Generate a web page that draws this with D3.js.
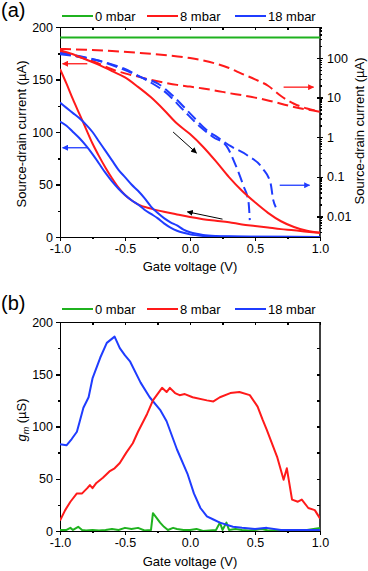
<!DOCTYPE html>
<meta charset="utf-8">
<style>
body { margin: 0; background: #fff; }
svg text { font-family: "Liberation Sans", Arial, sans-serif; fill: #000; }
.axis path, .axis line { stroke: #000; stroke-width: 1.5; shape-rendering: crispEdges; }
.axis text { font-size: 12.5px; }
</style>
<body>
<div id="chart"></div>
<script src="https://d3js.org/d3.v7.min.js"></script>
<script>

// ---- data ----
const seriesNames = ["0 mbar", "8 mbar", "18 mbar"];
const seriesColors = ["#1fb21f", "#ff1a1a", "#1f3cff"];

const gateTicks = [-1, -0.5, 0, 0.5, 1];
const gateMinor = [-0.75, -0.25, 0.25, 0.75];
const currentTicks = [0, 50, 100, 150, 200];
const currentMinor = [25, 75, 125, 175];
const logTicks = [0.01, 0.1, 1, 10, 100];
const gmTicks = [0, 50, 100, 150, 200];

// panel (a), solid lines, left axis (uA)
const green0Solid = [[-1, 190], [1, 190]];
const red8SolidUp = [[-1,178],[-0.9,174],[-0.8,169],[-0.7,164],[-0.6,158],[-0.5,152],[-0.4,143],[-0.3,133],[-0.2,121],[-0.1,108],[0,98],[0.1,86],[0.2,72],[0.3,57],[0.4,44],[0.5,33],[0.6,23],[0.7,15],[0.8,9.5],[0.9,6],[1,4]];
const red8SolidLow = [[-1,160],[-0.95,146],[-0.9,131],[-0.85,117],[-0.8,103],[-0.75,89],[-0.7,77],[-0.65,66],[-0.6,56],[-0.55,47],[-0.5,40],[-0.45,35],[-0.4,31],[-0.3,27],[-0.2,24],[-0.1,21.5],[0,19],[0.1,17],[0.2,15.5],[0.3,14],[0.4,12],[0.5,10.5],[0.6,9],[0.7,7.5],[0.8,6.5],[0.9,5],[1,4]];
const blue18SolidUp = [[-1,128],[-0.95,123],[-0.9,118],[-0.85,113],[-0.8,107],[-0.75,100],[-0.7,91],[-0.65,82],[-0.6,73],[-0.55,64],[-0.5,57],[-0.45,50],[-0.4,44],[-0.35,37],[-0.3,29],[-0.25,23],[-0.2,18],[-0.15,14],[-0.1,11],[-0.05,7],[0,4.5],[0.05,3],[0.1,2],[0.2,1],[0.3,0.6],[0.5,0.3],[0.7,0.2],[1,0.1]];
const blue18SolidLow = [[-1,110],[-0.95,106],[-0.9,100],[-0.85,94],[-0.8,87],[-0.75,79],[-0.7,70],[-0.65,61],[-0.6,53],[-0.55,46],[-0.5,40],[-0.45,35],[-0.4,31],[-0.35,26],[-0.3,22],[-0.25,18],[-0.2,13],[-0.15,9],[-0.1,6],[-0.05,4],[0,2.5],[0.1,1],[0.2,0.5],[0.4,0.2],[1,0.1]];

// panel (a), dashed lines, right log axis (uA)
const red8DashUp = [[-1,170],[-0.8,162],[-0.6,150],[-0.4,136],[-0.2,120],[0,100],[0.2,72],[0.3,56],[0.4,40],[0.5,29],[0.6,20],[0.7,11],[0.8,7],[0.9,5.3],[1,4.5]];
const red8DashLow = [[-1,145],[-0.9,118],[-0.8,95],[-0.7,72],[-0.6,52],[-0.5,41],[-0.4,34],[-0.3,28],[-0.2,24],[-0.1,21],[0,19],[0.1,17],[0.2,15],[0.3,13],[0.4,11.5],[0.5,10],[0.6,8.5],[0.7,7],[0.8,5.8],[0.9,5],[1,4.4]];
const blue18DashA = [[-1,134],[-0.72,89],[-0.54,56],[-0.41,37],[-0.31,25],[-0.18,13],[-0.05,4.8],[0.08,1.8],[0.18,1.0],[0.28,0.6],[0.35,0.2],[0.41,0.06],[0.45,0.023],[0.46,0.008]];
const blue18DashB = [[-1,125],[-0.69,84],[-0.5,53],[-0.36,31],[-0.25,23],[-0.13,11],[0,4.0],[0.13,1.5],[0.21,1.0],[0.31,0.6],[0.44,0.35],[0.56,0.16],[0.62,0.068],[0.64,0.026],[0.66,0.017]];

// panel (b), transconductance (uS)
const gm0 = [[-1,1],[-0.95,1],[-0.92,3],[-0.9,1],[-0.86,4],[-0.83,1],[-0.8,0.5],[-0.75,1],[-0.7,0.5],[-0.65,1],[-0.6,2],[-0.55,1],[-0.5,3],[-0.45,2],[-0.4,3],[-0.35,0.5],[-0.3,1],[-0.285,17],[-0.26,13],[-0.23,8],[-0.2,4],[-0.17,1],[-0.13,3],[-0.1,2],[-0.05,1],[0,1],[0.05,2],[0.1,0],[0.15,0.5],[0.2,1],[0.23,8],[0.25,1],[0.28,8],[0.3,1],[0.35,2],[0.4,1],[0.45,0.5],[0.5,1],[0.55,2],[0.6,0.5],[0.7,1],[0.8,0.5],[0.9,1],[0.95,2],[1,3]];
const gm8 = [[-1,10],[-0.96,20],[-0.92,28],[-0.87,36],[-0.83,36],[-0.79,41],[-0.77,44],[-0.75,41],[-0.72,46],[-0.67,51],[-0.62,57],[-0.58,60],[-0.54,65],[-0.49,75],[-0.44,84],[-0.4,95],[-0.33,112],[-0.285,125],[-0.215,137],[-0.18,133],[-0.155,137],[-0.115,132],[-0.08,130],[-0.04,131],[0.02,128],[0.13,125],[0.18,124],[0.23,128],[0.31,132],[0.38,133],[0.46,130],[0.52,119],[0.56,106],[0.59,97],[0.67,71],[0.72,49],[0.745,60],[0.785,30],[0.83,28],[0.86,30],[0.91,22],[0.96,20],[1,12]];
const gm18 = [[-1,83],[-0.95,82],[-0.91,88],[-0.87,95],[-0.85,104],[-0.82,118],[-0.78,128],[-0.75,146],[-0.69,166],[-0.64,180],[-0.58,186],[-0.54,175],[-0.5,168],[-0.46,162],[-0.38,142],[-0.31,128],[-0.23,116],[-0.18,105],[-0.1,78],[-0.02,55],[0.03,36],[0.08,22],[0.13,14],[0.18,11],[0.23,8],[0.33,4],[0.4,3],[0.5,2],[0.59,3],[0.7,1],[0.85,1],[1,1]];

// arrows in data units: [x1, y1, x2, y2] (tail -> head)
const arrowsLeft = [[-0.79, 165, -0.98, 165, 1], [-0.79, 85, -0.98, 85, 2]];
const arrowsLog = [[0.72, 18.4, 0.95, 18.4, 1], [0.69, 0.061, 0.92, 0.061, 2]];
const arrowsBlack = [[-0.13, 100, 0.05, 80], [0.25, 17, -0.02, 24]];

// ---- layout ----
const width = 368, height = 571;
const svg = d3.select("#chart").append("svg")
  .attr("width", width).attr("height", height);

const x = d3.scaleLinear().domain([-1, 1]).range([60, 320]);
const yA = d3.scaleLinear().domain([0, 200]).range([237, 27]);
const yLog = d3.scaleLog().domain([0.003, 610]).range([237, 27]);
const yB = d3.scaleLinear().domain([0, 200]).range([531, 322]);

const fmt1 = d => d.toFixed(1);

// arrow heads
const defs = svg.append("defs");
seriesColors.concat(["#000"]).forEach((c, i) => {
  defs.append("marker")
    .attr("id", "ah" + i)
    .attr("viewBox", "0 0 10 10")
    .attr("refX", 9).attr("refY", 5)
    .attr("markerWidth", 6).attr("markerHeight", 6)
    .attr("markerUnits", "userSpaceOnUse")
    .attr("orient", "auto")
    .append("path").attr("d", "M0,0L10,5L0,10z").attr("fill", c);
});

defs.append("clipPath").attr("id", "clipA").append("rect")
  .attr("x", 60).attr("y", 27).attr("width", 260).attr("height", 210);
defs.append("clipPath").attr("id", "clipB").append("rect")
  .attr("x", 60).attr("y", 322).attr("width", 260).attr("height", 209);

function drawPanel(y, top, bottom) {
  // bottom axis
  svg.append("g").attr("class", "axis")
    .attr("transform", `translate(0,${bottom})`)
    .call(d3.axisBottom(x).tickValues(gateTicks).tickFormat(fmt1).tickSize(4).tickPadding(3))
    .call(g => g.selectAll("text").attr("font-size", "12.5px"));
  svg.append("g").attr("class", "axis")
    .attr("transform", `translate(0,${bottom})`)
    .call(d3.axisBottom(x).tickValues(gateMinor).tickFormat("").tickSize(2))
    .call(g => g.select(".domain").remove());
  // top axis, inward ticks
  svg.append("g").attr("class", "axis")
    .attr("transform", `translate(0,${top})`)
    .call(d3.axisTop(x).tickValues(gateTicks.concat(gateMinor)).tickFormat("").tickSizeInner(-3).tickSizeOuter(0));
  // left axis
  svg.append("g").attr("class", "axis")
    .attr("transform", "translate(60,0)")
    .call(d3.axisLeft(y).tickValues(currentTicks).tickSize(4).tickPadding(3))
    .call(g => g.selectAll("text").attr("font-size", "12.5px"));
  svg.append("g").attr("class", "axis")
    .attr("transform", "translate(60,0)")
    .call(d3.axisLeft(y).tickValues(currentMinor).tickFormat("").tickSize(2))
    .call(g => g.select(".domain").remove());
  // frame line on the right
  svg.append("line")
    .attr("x1", 320).attr("x2", 320).attr("y1", top).attr("y2", bottom)
    .attr("stroke", "#000").attr("stroke-width", 1.5);
}

function drawLegend(yy) {
  const lg = svg.append("g");
  const lx = [62, 147, 235];
  seriesNames.forEach((n, i) => {
    lg.append("line")
      .attr("x1", lx[i]).attr("x2", lx[i] + 31).attr("y1", yy).attr("y2", yy)
      .attr("stroke", seriesColors[i]).attr("stroke-width", 2);
    lg.append("text")
      .attr("x", lx[i] + 33).attr("y", yy + 4.5)
      .attr("font-size", "13px").text(n);
  });
}

// ---- panel (a) ----
drawPanel(yA, 27, 237);

// right log axis
const logAxis = svg.append("g").attr("class", "axis").attr("transform", "translate(320,0)");
logAxis.call(d3.axisRight(yLog).tickValues(logTicks).tickFormat(d => String(d)).tickSize(3).tickPadding(4))
  .call(g => g.select(".domain").remove())
  .call(g => g.selectAll("text").attr("font-size", "12.5px"));
logAxis.selectAll(".tick").append("line").attr("x2", -3).attr("stroke", "#000").attr("stroke-width", 1.5);
const logMinor = [];
[0.001, 0.01, 0.1, 1, 10, 100].forEach(dec => {
  for (let k = 2; k <= 9; k++) {
    const v = dec * k;
    if (v > 0.003 && v < 610) logMinor.push(v);
  }
});
svg.append("g").attr("class", "axis").attr("transform", "translate(320,0)")
  .call(d3.axisRight(yLog).tickValues(logMinor).tickFormat("").tickSize(2))
  .call(g => g.select(".domain").remove())
  .call(g => g.selectAll("line").attr("stroke-width", 1));

const lineA = d3.line().x(d => x(d[0])).y(d => yA(d[1])).curve(d3.curveMonotoneX);
const lineLog = d3.line().x(d => x(d[0])).y(d => yLog(d[1])).curve(d3.curveMonotoneX);

const gA = svg.append("g").attr("clip-path", "url(#clipA)");
const solidA = [
  [green0Solid, 0], [red8SolidUp, 1], [red8SolidLow, 1], [blue18SolidUp, 2], [blue18SolidLow, 2]
];
const dashLog = [
  [red8DashUp, 1], [red8DashLow, 1], [blue18DashA, 2], [blue18DashB, 2]
];
dashLog.forEach(([d, c]) => {
  gA.append("path").attr("d", lineLog(d))
    .attr("fill", "none").attr("stroke", seriesColors[c])
    .attr("stroke-width", 2).attr("stroke-dasharray", "11,5");
});
solidA.forEach(([d, c]) => {
  gA.append("path").attr("d", lineA(d))
    .attr("fill", "none").attr("stroke", seriesColors[c])
    .attr("stroke-width", 2);
});

arrowsLeft.forEach(a => {
  svg.append("line")
    .attr("x1", x(a[0])).attr("y1", yA(a[1])).attr("x2", x(a[2])).attr("y2", yA(a[3]))
    .attr("stroke", seriesColors[a[4]]).attr("stroke-width", 1.3)
    .attr("marker-end", `url(#ah${a[4]})`);
});
arrowsLog.forEach(a => {
  svg.append("line")
    .attr("x1", x(a[0])).attr("y1", yLog(a[1])).attr("x2", x(a[2])).attr("y2", yLog(a[3]))
    .attr("stroke", seriesColors[a[4]]).attr("stroke-width", 1.3)
    .attr("marker-end", `url(#ah${a[4]})`);
});
arrowsBlack.forEach(a => {
  svg.append("line")
    .attr("x1", x(a[0])).attr("y1", yA(a[1])).attr("x2", x(a[2])).attr("y2", yA(a[3]))
    .attr("stroke", "#000").attr("stroke-width", 1)
    .attr("marker-end", "url(#ah3)");
});

drawLegend(16);

svg.append("text").attr("x", 1).attr("y", 17).attr("font-size", "20px").text("(a)");
svg.append("text").attr("x", 190).attr("y", 271).attr("text-anchor", "middle")
  .attr("font-size", "13px").text("Gate voltage (V)");
svg.append("text").attr("transform", "translate(26,134) rotate(-90)")
  .attr("text-anchor", "middle").attr("font-size", "13px")
  .text("Source-drain current (\u00b5A)");
svg.append("text").attr("transform", "translate(364,131) rotate(-90)")
  .attr("text-anchor", "middle").attr("font-size", "13px")
  .text("Source-drain current (\u00b5A)");

// ---- panel (b) ----
drawPanel(yB, 322, 531);
svg.append("g").attr("class", "axis").attr("transform", "translate(320,0)")
  .call(d3.axisRight(yB).tickValues(gmTicks.concat(currentMinor)).tickFormat("").tickSizeInner(-3).tickSizeOuter(0))
  .call(g => g.select(".domain").remove());

const lineB = d3.line().x(d => x(d[0])).y(d => yB(d[1]));
const gB = svg.append("g").attr("clip-path", "url(#clipB)");
[[gm0, 0], [gm18, 2], [gm8, 1]].forEach(([d, c]) => {
  gB.append("path").attr("d", lineB(d))
    .attr("fill", "none").attr("stroke", seriesColors[c])
    .attr("stroke-width", 2).attr("stroke-linejoin", "round");
});

drawLegend(309);

svg.append("text").attr("x", 1).attr("y", 310).attr("font-size", "20px").text("(b)");
svg.append("text").attr("x", 190).attr("y", 566).attr("text-anchor", "middle")
  .attr("font-size", "13px").text("Gate voltage (V)");
const gmLabel = svg.append("text").attr("transform", "translate(26,420) rotate(-90)")
  .attr("text-anchor", "middle").attr("font-size", "13px");
gmLabel.append("tspan").attr("font-style", "italic").text("g");
gmLabel.append("tspan").attr("font-style", "italic").attr("font-size", "9px").attr("dy", 3).text("m");
gmLabel.append("tspan").attr("dy", -3).text(" (\u00b5S)");

</script>
